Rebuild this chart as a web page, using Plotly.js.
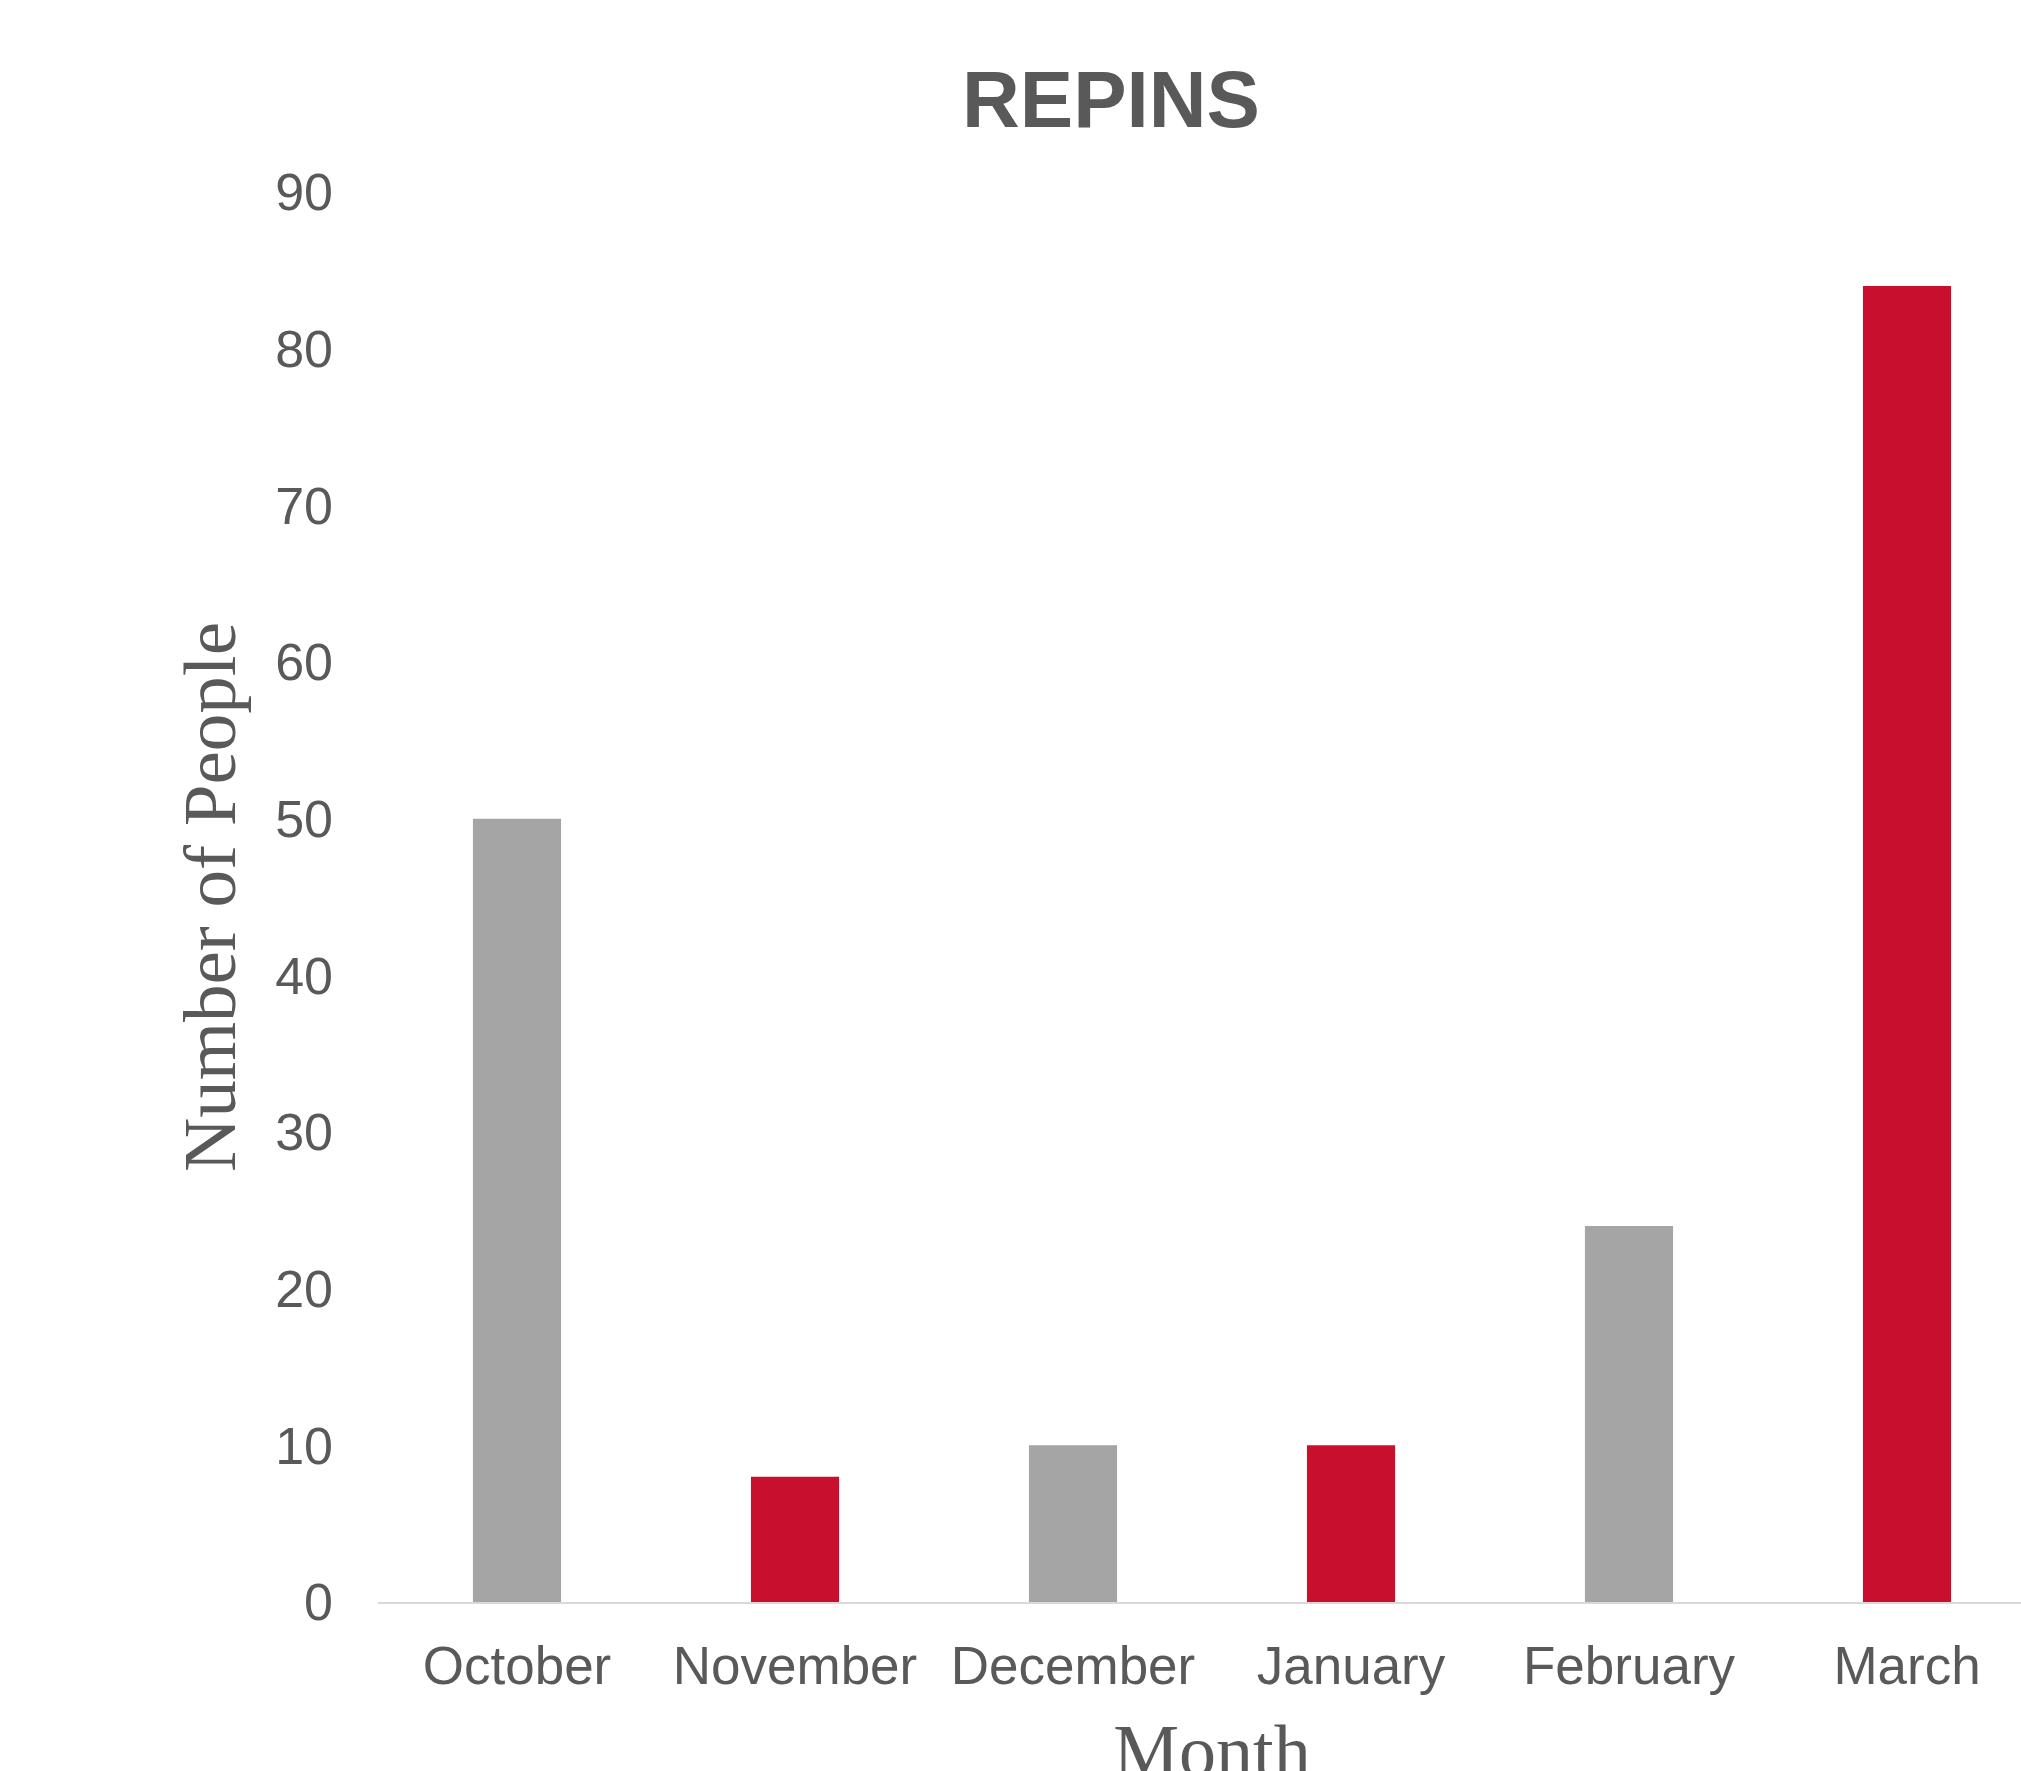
<!DOCTYPE html>
<html>
<head>
<meta charset="utf-8">
<script src="https://cdn.plot.ly/plotly-3.0.1.min.js"></script>
<style>html,body{margin:0;padding:0;background:#fff;overflow:hidden;width:2021px;height:1771px;}#chart{width:2046px;height:1792px;}</style>
</head>
<body>
<div id="chart"></div>
<script>
const months = ["October", "November", "December", "January", "February", "March"];
const repins = [50, 8, 10, 10, 24, 84];
const yTicks = [0, 10, 20, 30, 40, 50, 60, 70, 80, 90];

const GRAY = "#a5a5a5", RED = "#c8102e";
const barColors = months.map((_, i) => (i % 2 === 0 ? GRAY : RED));
const TXT = "#595959";
const SANS = "'Liberation Sans', Arial, sans-serif";
const SERIF = "'Liberation Serif', 'Times New Roman', serif";
const W = 2046, H = 1792;

Plotly.newPlot("chart", [{
  type: "bar",
  x: months,
  y: repins,
  marker: { color: barColors, line: { width: 0 } },
  hoverinfo: "x+y"
}], {
  width: W,
  height: H,
  paper_bgcolor: "#fff",
  plot_bgcolor: "#fff",
  margin: { l: 378, r: 0, t: 192, b: 190, pad: 0 },
  bargap: 0.683,
  showlegend: false,
  title: {
    text: "<b>REPINS</b>",
    font: { family: SANS, size: 80, color: TXT },
    x: 1111 / W, xanchor: "center", xref: "container",
    y: 1 - 99 / H, yanchor: "middle", yref: "container"
  },
  xaxis: {
    type: "category",
    range: [-0.5, 5.5],
    showgrid: false,
    zeroline: false,
    showline: true,
    linecolor: "#d9d9d9",
    linewidth: 2,
    ticks: "",
    ticklabelstandoff: 16,
    tickfont: { family: SANS, size: 53, color: TXT },
    automargin: false,
    title: { text: "Month", font: { family: SERIF, size: 74, color: TXT }, standoff: 60 }
  },
  yaxis: {
    range: [0, 90],
    tickvals: yTicks,
    ticktext: yTicks.map(String),
    showgrid: false,
    zeroline: false,
    showline: false,
    ticks: "",
    ticklabelstandoff: 44,
    tickfont: { family: SANS, size: 52, color: TXT },
    automargin: false,
    title: { text: "Number of People", font: { family: SERIF, size: 75, color: TXT }, standoff: 14 }
  }
}, { displayModeBar: false, staticPlot: true });
</script>
</body>
</html>
